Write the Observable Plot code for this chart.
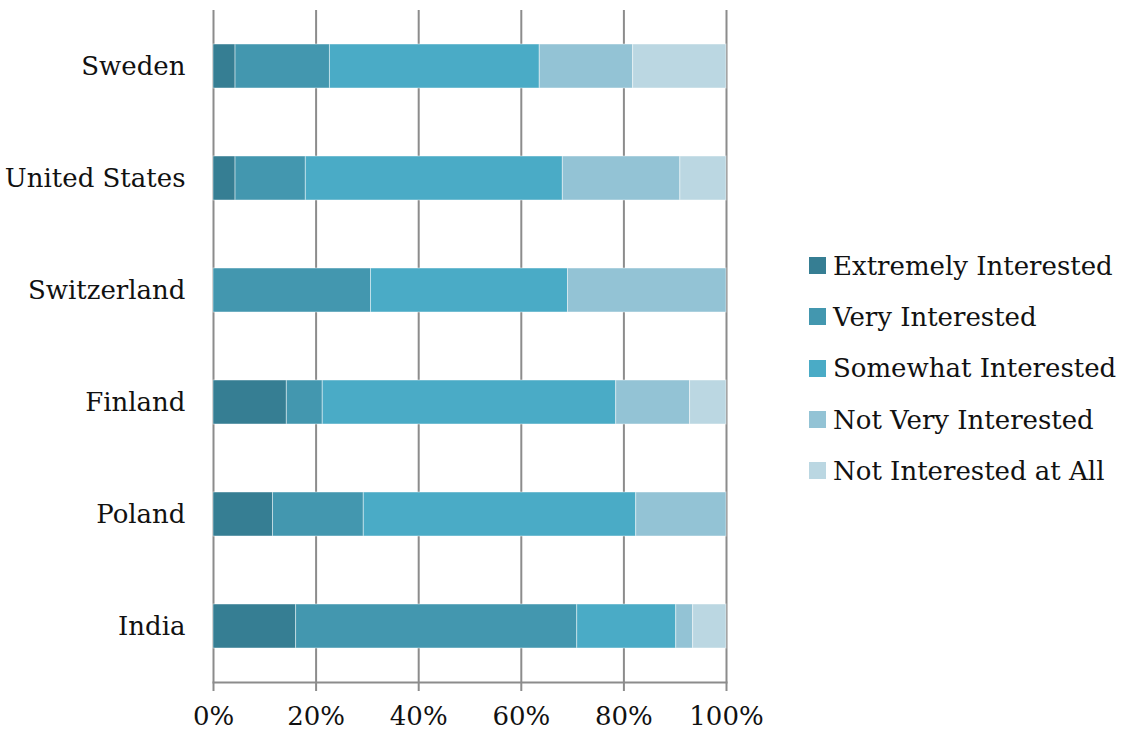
<!DOCTYPE html>
<html>
<head>
<meta charset="utf-8">
<script src="https://cdn.jsdelivr.net/npm/d3@7"></script>
<script src="https://cdn.jsdelivr.net/npm/@observablehq/plot@0.6"></script>
<style>
  html, body { margin: 0; padding: 0; background: #fff; }
  #wrap { position: relative; width: 1125px; height: 733px; font-family: "DejaVu Serif", serif; }
  #legend { position: absolute; left: 809px; top: 240px; }
  .item { display: flex; align-items: center; height: 51.3px; font-size: 26px; color: #111; white-space: nowrap; }
  .sw { width: 17px; height: 17px; margin-right: 7px; flex: none; }
</style>
</head>
<body>
<div id="wrap"><div id="chart"></div><div id="legend"></div></div>
<script>
const countries = ["Sweden", "United States", "Switzerland", "Finland", "Poland", "India"];
const categories = ["Extremely Interested", "Very Interested", "Somewhat Interested", "Not Very Interested", "Not Interested at All"];
const colors = ["#367e93", "#4397af", "#4aabc6", "#93c3d5", "#bbd7e2"];
const extremely   = [4.3, 4.3, 0, 14.3, 11.6, 16.1];
const very        = [18.4, 13.7, 30.7, 7.0, 17.7, 54.8];
const somewhat    = [40.9, 50.1, 38.4, 57.2, 53.1, 19.3];
const notVery     = [18.2, 22.9, 30.9, 14.4, 17.6, 3.3];
const notAtAll    = [18.2, 9.0, 0, 7.1, 0, 6.5];
const xTicks = [0, 20, 40, 60, 80, 100];

const series = [extremely, very, somewhat, notVery, notAtAll];
const rows = [];
countries.forEach((c, i) => {
  categories.forEach((cat, j) => {
    rows.push({country: c, category: cat, value: series[j][i]});
  });
});

const chart = Plot.plot({
  width: 1125,
  height: 733,
  marginLeft: 213,
  marginRight: 399,
  marginTop: 10,
  marginBottom: 51,
  style: {fontFamily: "DejaVu Serif, serif", fontSize: "26px", color: "#111", background: "#fff"},
  x: {domain: [0, 100], ticks: xTicks, tickFormat: d => d + "%", label: null},
  y: {domain: countries, paddingInner: 0.607, paddingOuter: 0.3035, label: null},
  color: {domain: categories, range: colors},
  marks: [
    Plot.ruleX(xTicks, {stroke: "#8c8c8c", strokeWidth: 2}),
    Plot.barX(rows, Plot.stackX({
      x: "value", y: "country", fill: "category",
      order: categories,
      stroke: "#ffffff", strokeOpacity: 0.45, strokeWidth: 1
    })),
    Plot.axisX({ticks: xTicks, tickFormat: d => d + "%", tickSize: 9, tickPadding: 15, stroke: "#8c8c8c", strokeWidth: 2, fill: "#111", fontSize: 26, label: null}),
    Plot.axisY({tickSize: 0, tickPadding: 28, fill: "#111", fontSize: 26, label: null}),
    Plot.frame({anchor: "bottom", stroke: "#8c8c8c", strokeWidth: 2})
  ]
});
document.getElementById("chart").appendChild(chart);

const legend = document.getElementById("legend");
categories.forEach((cat, j) => {
  const it = document.createElement("div");
  it.className = "item";
  const sw = document.createElement("span");
  sw.className = "sw";
  sw.style.background = colors[j];
  it.appendChild(sw);
  it.appendChild(document.createTextNode(cat));
  legend.appendChild(it);
});
</script>
</body>
</html>
